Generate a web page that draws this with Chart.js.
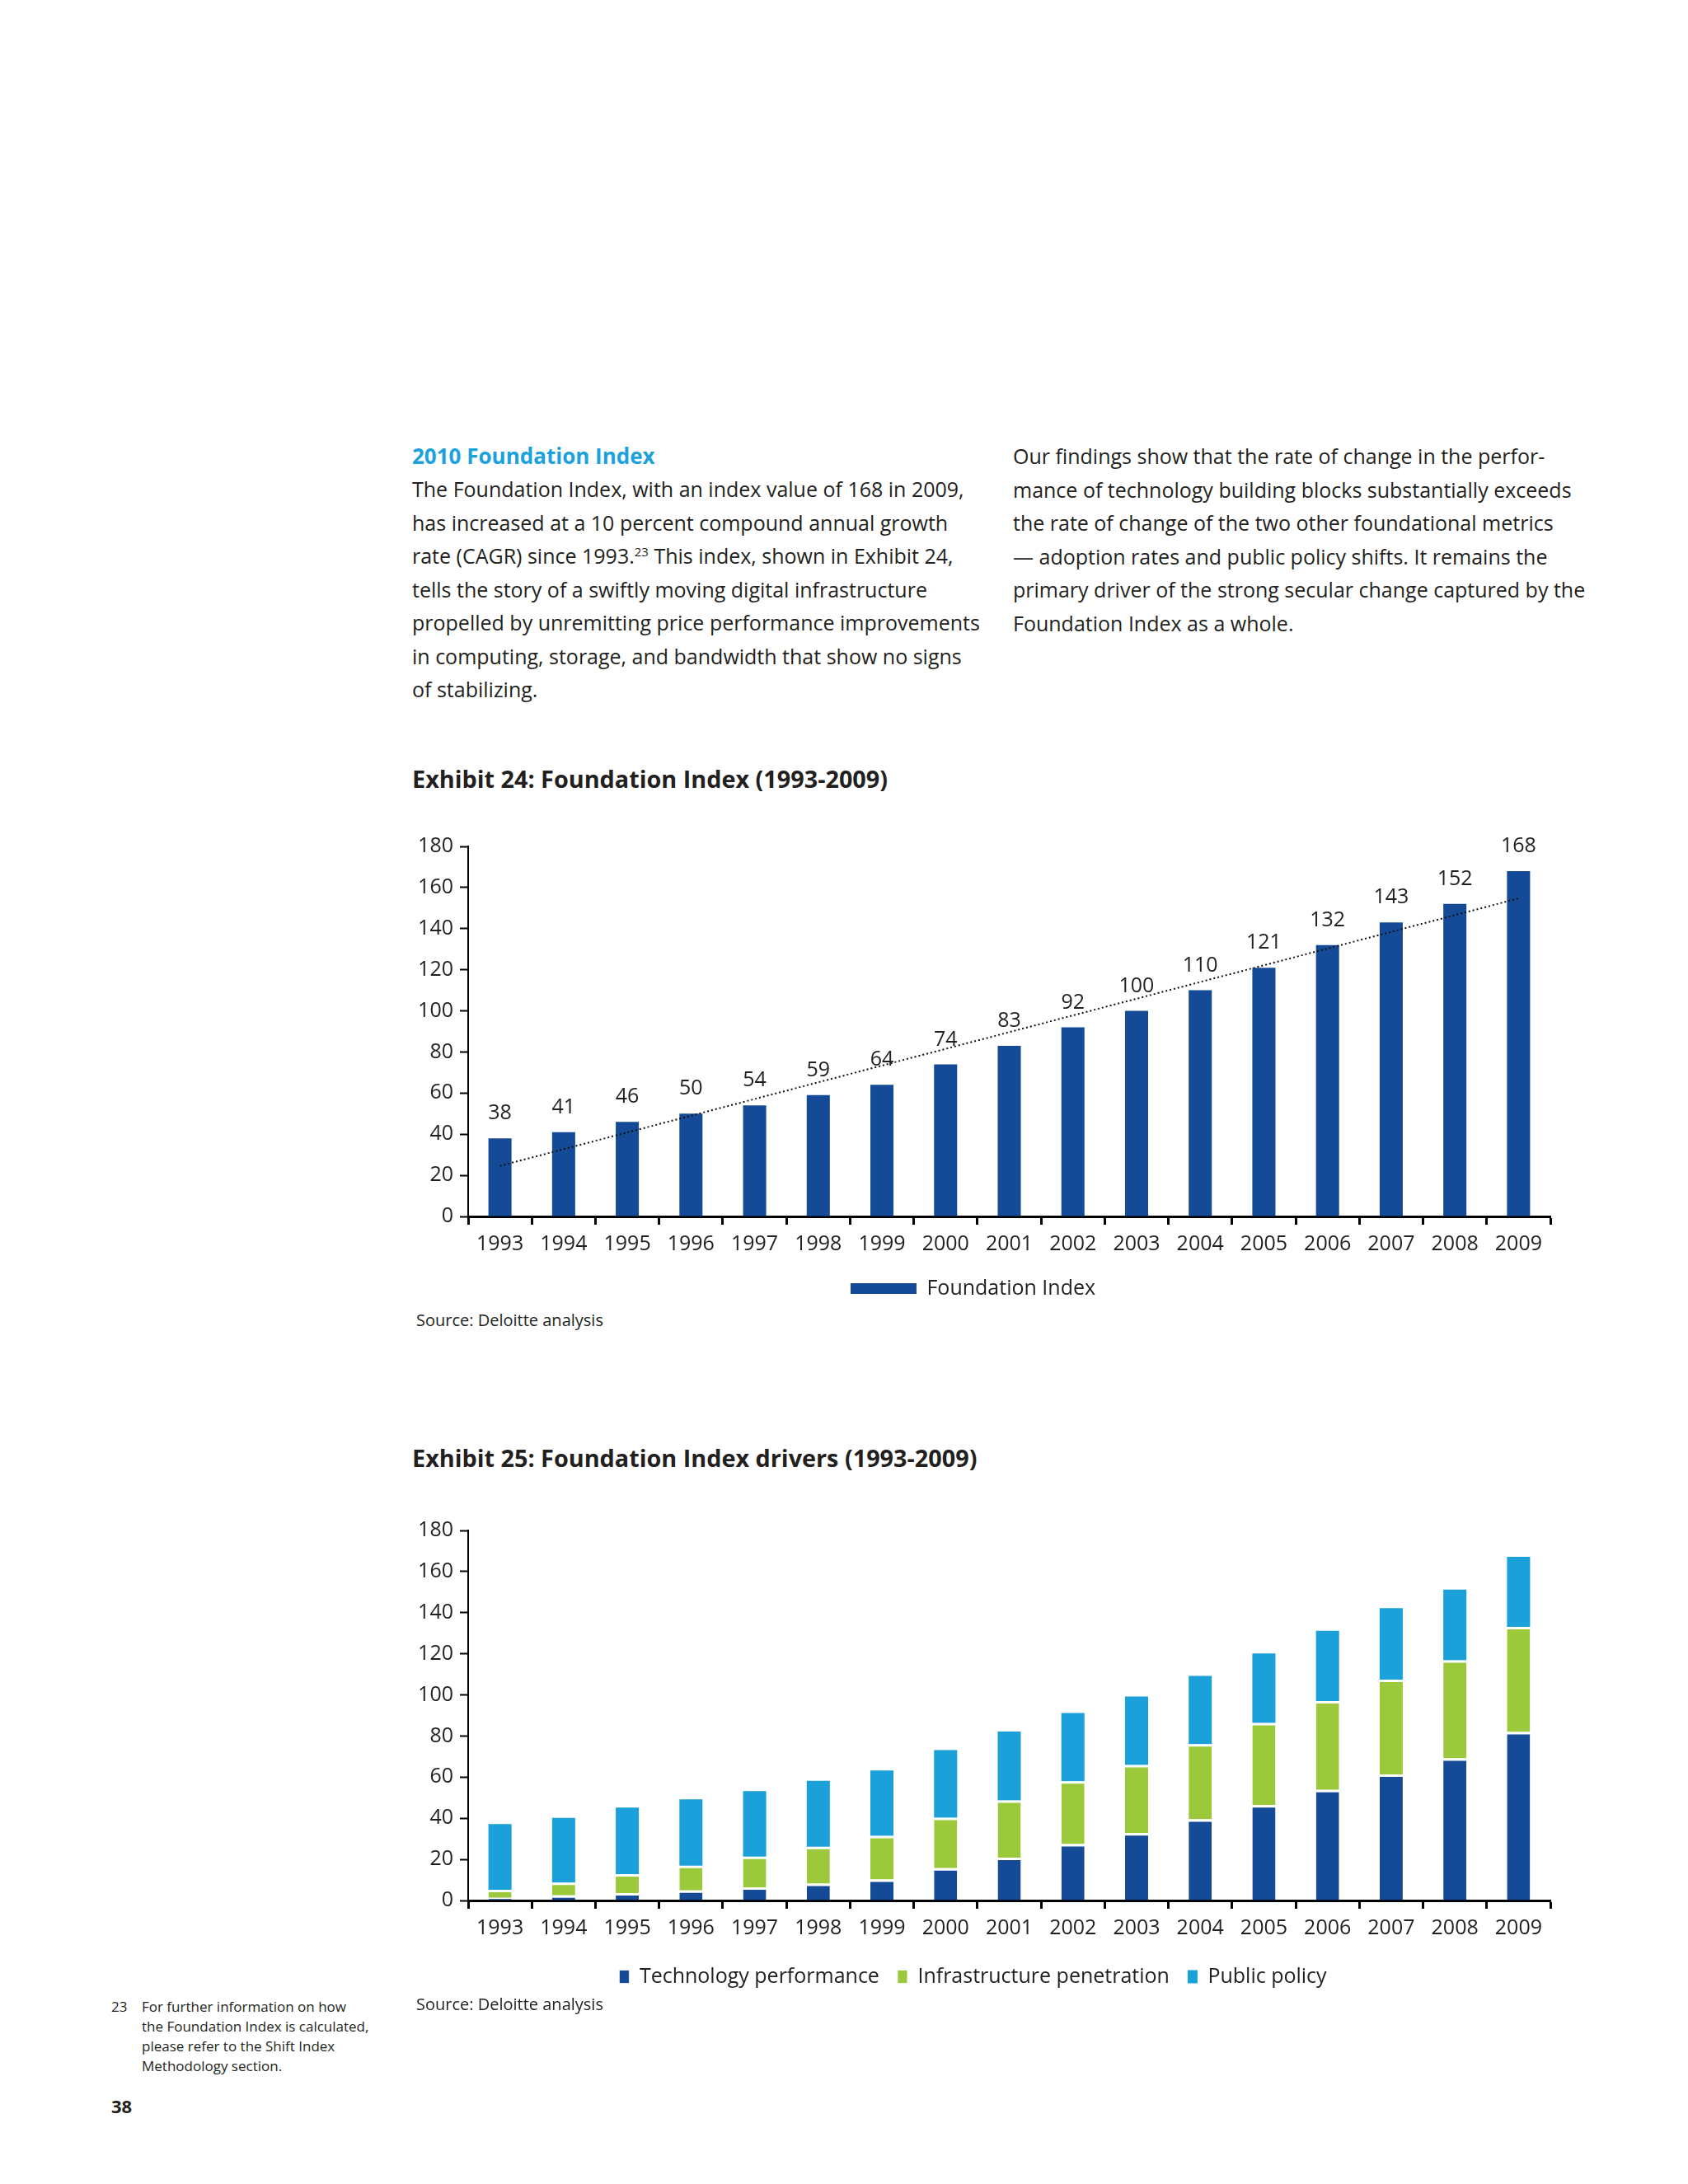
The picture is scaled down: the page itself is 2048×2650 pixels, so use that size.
<!DOCTYPE html>
<html>
<head>
<meta charset="utf-8">
<title>Foundation Index</title>
<script src="https://cdn.jsdelivr.net/npm/chart.js@4.4.0/dist/chart.umd.min.js"></script>
<style>
  body { margin: 0; width: 2048px; height: 2650px; position: relative; background: #fff;
         font-family: "Open Sans", sans-serif; color: #231f20; }
  .t { position: absolute; white-space: nowrap; }
  .body { font-size: 25px; line-height: 40.5px; }
  .head { font-size: 26px; font-weight: bold; color: #1ba1db; line-height: 40px; }
  .title { font-size: 28.8px; font-weight: bold; line-height: 40px; }
  .src { font-size: 20px; line-height: 30px; }
  .foot { font-size: 17px; line-height: 24px; }
  .box { position: absolute; left: 480px; width: 1420px; }
  sup { font-size: 60%; line-height: 0; }
</style>
</head>
<body>

<div class="t head" style="left:500px; top:533px;">2010 Foundation Index</div>
<div class="t body" style="left:500px; top:573px;">
The Foundation Index, with an index value of 168 in 2009,<br>
has increased at a 10 percent compound annual growth<br>
rate (CAGR) since 1993.<sup>23</sup> This index, shown in Exhibit 24,<br>
tells the story of a swiftly moving digital infrastructure<br>
propelled by unremitting price performance improvements<br>
in computing, storage, and bandwidth that show no signs<br>
of stabilizing.
</div>
<div class="t body" style="left:1229px; top:533px;">
Our findings show that the rate of change in the perfor-<br>
mance of technology building blocks substantially exceeds<br>
the rate of change of the two other foundational metrics<br>
— adoption rates and public policy shifts. It remains the<br>
primary driver of the strong secular change captured by the<br>
Foundation Index as a whole.
</div>

<div class="t title" style="left:500px; top:925px;">Exhibit 24: Foundation Index (1993-2009)</div>
<div class="box" style="top:990px; height:596px;"><canvas id="indexChart"></canvas></div>
<div class="t src" style="left:505px; top:1587px;">Source: Deloitte analysis</div>

<div class="t title" style="left:500px; top:1749px;">Exhibit 25: Foundation Index drivers (1993-2009)</div>
<div class="box" style="top:1820px; height:601px;"><canvas id="driversChart"></canvas></div>
<div class="t src" style="left:505px; top:2417px;">Source: Deloitte analysis</div>

<div class="t foot" style="left:135px; top:2423px;">23</div>
<div class="t foot" style="left:172px; top:2423px;">
For further information on how<br>
the Foundation Index is calculated,<br>
please refer to the Shift Index<br>
Methodology section.
</div>
<div class="t" style="left:135px; top:2540px; font-size:22px; font-weight:bold;">38</div>

<script>
const years = ['1993', '1994', '1995', '1996', '1997', '1998', '1999', '2000', '2001',
               '2002', '2003', '2004', '2005', '2006', '2007', '2008', '2009'];
const indexValues = [38, 41, 46, 50, 54, 59, 64, 74, 83, 92, 100, 110, 121, 132, 143, 152, 168];
// dotted trend line, only its two ends
const trendValues = [24.6, null, null, null, null, null, null, null, null,
                     null, null, null, null, null, null, null, 154.7];

const techPerf = [1.3, 2.5, 3.6, 4.9, 6.4, 8.2, 10.2, 15.7, 20.8, 27.5, 32.8, 39.5, 46.4, 53.8, 61.3, 69.2, 82.0];
const infraPen = [3.9, 6.2, 9.2, 12.0, 14.9, 18.0, 21.3, 24.6, 27.9, 30.5, 33.1, 36.6, 40.0, 43.2, 46.1, 47.7, 51.1];
const publicPolicy = [32.0, 31.5, 32.4, 32.3, 31.9, 32.0, 31.7, 32.9, 33.5, 33.2, 33.3, 33.1, 33.8, 34.2, 34.8, 34.3, 34.1];

const yMin = 0, yMax = 180, yStep = 20;

const FONT = '"Open Sans", sans-serif';
const TXT = '#231f20';
const DARK_BLUE = '#154a96';
const GREEN = '#9cc93b';
const LIGHT_BLUE = '#1ba0da';

Chart.defaults.font.family = FONT;
Chart.defaults.color = TXT;

function axes() {
    return {
        x: {
            grid: { offset: true, drawOnChartArea: false, drawTicks: true, tickLength: 10,
                    tickColor: '#000', tickWidth: 3 },
            border: { color: '#000', width: 3 },
            ticks: { font: { size: 25 }, color: TXT, padding: 9 }
        },
        y: {
            min: yMin, max: yMax,
            ticks: { stepSize: yStep, font: { size: 25 }, color: TXT, padding: 8 },
            grid: { drawOnChartArea: false, tickLength: 10, tickColor: '#000', tickWidth: 2 },
            border: { color: '#000', width: 2 },
            afterFit: (s) => { s.width = 88; }
        }
    };
}

// numbers above the bars of exhibit 24
const valueLabels = {
    id: 'valueLabels',
    afterDatasetsDraw(chart) {
        const ctx = chart.ctx;
        const meta = chart.getDatasetMeta(0);
        ctx.save();
        ctx.font = '25px ' + FONT;
        ctx.fillStyle = TXT;
        ctx.textAlign = 'center';
        ctx.textBaseline = 'middle';
        meta.data.forEach((bar, i) => ctx.fillText(indexValues[i], bar.x, bar.y - 30));
        ctx.restore();
    }
};

new Chart(document.getElementById('indexChart'), {
    type: 'bar',
    data: {
        labels: years,
        datasets: [
            { label: 'Foundation Index', data: indexValues, backgroundColor: DARK_BLUE,
              barPercentage: 0.363, categoryPercentage: 1, order: 1 },
            { type: 'line', label: 'Trend', data: trendValues, spanGaps: true, borderColor: '#111',
              borderWidth: 2, borderDash: [2, 3], pointRadius: 0, fill: false, order: 0 }
        ]
    },
    options: {
        responsive: true, maintainAspectRatio: false, animation: false,
        layout: { padding: { top: 37, right: 19, left: 0, bottom: 0 } },
        scales: axes(),
        plugins: {
            legend: {
                position: 'bottom',
                labels: { boxWidth: 80, boxHeight: 13, padding: 17, font: { size: 25 }, color: TXT,
                          filter: (item) => item.datasetIndex === 0 }
            },
            tooltip: { enabled: false }
        }
    },
    plugins: [valueLabels]
});

const sep = { top: 3, right: 0, bottom: 0, left: 0 };
new Chart(document.getElementById('driversChart'), {
    type: 'bar',
    data: {
        labels: years,
        datasets: [
            { label: 'Technology performance', data: techPerf, backgroundColor: DARK_BLUE,
              borderColor: '#fff', borderWidth: sep, borderSkipped: false },
            { label: 'Infrastructure penetration', data: infraPen, backgroundColor: GREEN,
              borderColor: '#fff', borderWidth: sep, borderSkipped: false },
            { label: 'Public policy', data: publicPolicy, backgroundColor: LIGHT_BLUE }
        ]
    },
    options: {
        responsive: true, maintainAspectRatio: false, animation: false,
        datasets: { bar: { barPercentage: 0.363, categoryPercentage: 1 } },
        layout: { padding: { top: 37, right: 19, left: 0, bottom: 0 } },
        scales: (() => { const s = axes(); s.x.stacked = true; s.y.stacked = true; return s; })(),
        plugins: {
            legend: {
                position: 'bottom',
                labels: { boxWidth: 12, boxHeight: 16, padding: 22, font: { size: 25 }, color: TXT }
            },
            tooltip: { enabled: false }
        }
    }
});
</script>
</body>
</html>
